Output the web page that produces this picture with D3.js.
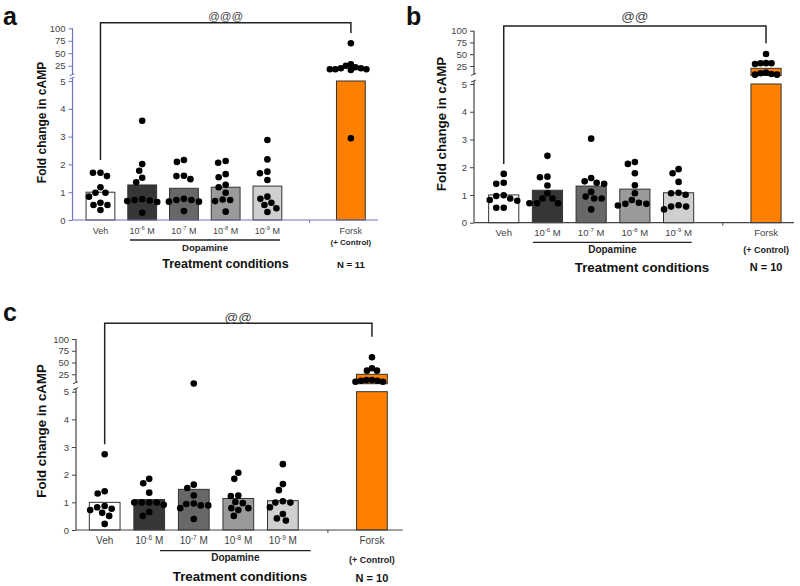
<!DOCTYPE html>
<html><head><meta charset="utf-8">
<script src="https://cdn.jsdelivr.net/npm/d3@7"></script>
<style>body{margin:0;background:#fff}svg{display:block}text{font-family:"Liberation Sans",Arial,sans-serif}</style>
</head><body><svg id="c" width="800" height="586"></svg>
<script>
// ---- data ----
const categories = ["Veh", "10-6 M", "10-7 M", "10-8 M", "10-9 M", "Forsk"];
const doseExponents = ["", "-6", "-7", "-8", "-9", ""];
const barFills = ["#ffffff", "#363636", "#686868", "#9a9a9a", "#cfcfcf", "#ff8000"];
const lowerTicks = [0, 1, 2, 3, 4, 5];
const upperTicks = [25, 50, 75, 100];

const meansA = [1.0, 1.26, 1.14, 1.18, 1.22, 5];
const meansB = [1.0, 1.17, 1.32, 1.21, 1.08, 20];
const meansC = [1.0, 1.10, 1.47, 1.14, 1.06, 25];

const dotsA = [
  [1.58, 1.70, 1.70, 1.18, 0.84, 0.98, 0.98, 0.62, 0.54, 0.54, 0.36],
  [3.57, 2.01, 1.77, 1.52, 1.36, 0.75, 0.70, 0.68, 0.72, 0.65, 0.26],
  [2.09, 2.16, 1.47, 1.59, 1.58, 0.66, 0.76, 0.72, 0.72, 0.66, 0.32],
  [2.06, 2.12, 1.54, 1.65, 1.18, 1.27, 0.98, 0.68, 0.74, 0.72, 0.30],
  [2.88, 2.18, 1.68, 1.74, 1.44, 0.84, 0.62, 0.29, 0.54, 0.76, 0.42],
  [70, 17.8, 19.8, 21.8, 17.8, 25, 27.9, 17.8, 16.4, 19.8, 2.94]
];
const dotsB = [
  [1.76, 1.40, 1.44, 0.82, 0.96, 0.87, 0.99, 0.79, 0.54, 0.54],
  [2.41, 1.64, 1.66, 1.34, 1.06, 0.87, 0.87, 0.70, 0.70, 0.70],
  [3.03, 1.61, 1.40, 1.44, 1.49, 1.11, 0.87, 0.94, 0.87, 0.48],
  [2.12, 2.19, 1.78, 1.35, 1.06, 0.82, 0.72, 0.68, 0.68, 0.62],
  [1.78, 1.93, 1.47, 1.01, 1.08, 1.06, 0.48, 0.63, 0.58, 0.58],
  [50.4, 29.2, 30.7, 30.7, 31, 6.6, 10.8, 9.5, 8, 6.6]
];
const dotsC = [
  [2.74, 1.32, 1.40, 0.72, 0.82, 0.87, 0.77, 0.51, 0.62, 0.22],
  [1.69, 1.85, 1.35, 0.99, 0.99, 0.99, 0.99, 0.91, 0.51, 0.65],
  [5.5, 1.52, 1.64, 1.25, 0.89, 0.96, 0.89, 0.94, 0.79, 0.40],
  [2.07, 1.85, 1.25, 1.23, 1.01, 0.97, 0.79, 0.79, 0.72, 0.51],
  [2.38, 1.66, 1.44, 1.04, 0.99, 0.99, 0.82, 0.58, 0.34, 0.42],
  [61.2, 32.7, 32.7, 37.8, 9.3, 12.9, 11.4, 12.9, 11.4, 9.3]
];
const sigLabels = ["@@@", "@@", "@@"];
const nLabels = ["N = 11", "N = 10", "N = 10"];

// ---- layout ----
const panels = [
  {letter:"a", lx:3, ly:25, L:72.5, R:378, padL:0.67, padR:0.65, y0:220, y5:81, y5u:75.7, y100:28.3, ax:"#7272c4",
   brY:22.7, gapL:12.7, gapR:10.3, sigSize:11.5, sigY:19.5, tickFont:9, tickY:233.5, dopY:240, dopX:[130,280], dopTY:251, dopFont:9.5,
   tcX:225.5, tcY:268, tcFont:12.5, forskY:234, ctrlY:244.5, ctrlFont:8, nY:267.5, nFont:9.5, ylX:46, ylY:122.5, ylFont:12, means:meansA, dots:dotsA},
  {letter:"b", lx:406, ly:25, L:474, R:794, padL:0.68, padR:0.64, y0:222.7, y5:84, y5u:75.4, y100:30.7, ax:"#444",
   brY:26, gapL:10, gapR:10.7, sigSize:13.5, sigY:20.5, tickFont:9.5, tickY:235.5, dopY:242.3, dopX:[533,691.7], dopTY:253, dopFont:10,
   tcX:642, tcY:272, tcFont:13.3, forskY:235.5, ctrlY:252.5, ctrlFont:9, nY:271, nFont:11, ylX:446.3, ylY:124, ylFont:13.3, means:meansB, dots:dotsB},
  {letter:"c", lx:3, ly:321, L:76, R:402.7, padL:0.644, padR:0.69, y0:530, y5:391.7, y5u:383.7, y100:339, ax:"#444",
   brY:323.3, gapL:10, gapR:20.6, sigSize:13.5, sigY:321.5, tickFont:10, tickY:543.5, dopY:550.7, dopX:[160,310.7], dopTY:561, dopFont:10,
   tcX:240, tcY:581, tcFont:13.3, forskY:544, ctrlY:562.5, ctrlFont:9, nY:581.5, nFont:11, ylX:46.3, ylY:431, ylFont:13.2, means:meansC, dots:dotsC}
];

const svg = d3.select("#c");
const R = 3.3;

function swarm(vals, yFn, dist) {
  const pts = vals.map(v => ({v, y: yFn(v)})).sort((a, b) => a.y - b.y);
  const placed = [];
  for (const p of pts) {
    let off = 0;
    for (let k = 0; k < 400; k++) {
      const o = (k % 2 === 0 ? 1 : -1) * Math.ceil(k / 2) * 0.5;
      if (placed.every(q => (q.x - o) ** 2 + (q.y - p.y) ** 2 >= dist * dist)) { off = o; break; }
    }
    p.x = off; placed.push(p);
  }
  return pts;
}

panels.forEach((P, pi) => {
  const g = svg.append("g");
  const x = d3.scaleLinear().domain([-P.padL, 6 + P.padR]).range([P.L, P.R]);
  const step = x(1) - x(0);
  const bw = step * 0.69;
  const yLo = d3.scaleLinear().domain([0, 5]).range([P.y0, P.y5]);
  const yUp = d3.scaleLinear().domain([5, 100]).range([P.y5u, P.y100]);
  const yv = v => v <= 5 ? yLo(v) : yUp(v);
  const pos = i => i < 5 ? i : 6;

  g.append("text").attr("x", P.lx).attr("y", P.ly).attr("font-size", 25).attr("font-weight", "bold").attr("fill", "#111").text(P.letter);

  P.means.forEach((m, i) => {
    const cx = x(pos(i));
    g.append("rect").attr("x", cx - bw / 2).attr("width", bw)
      .attr("y", yLo(Math.min(m, 5))).attr("height", P.y0 - yLo(Math.min(m, 5)))
      .attr("fill", barFills[i]).attr("stroke", "#333").attr("stroke-width", 1);
    if (m > 5) {
      g.append("rect").attr("x", cx - bw / 2).attr("width", bw)
        .attr("y", yUp(m)).attr("height", yUp(5) - yUp(m))
        .attr("fill", barFills[i]).attr("stroke", "#333").attr("stroke-width", 1);
    }
  });

  P.dots.forEach((vals, i) => {
    const cx = x(pos(i));
    swarm(vals, yv, i === 5 ? 5.2 : 7.2).forEach(p => {
      g.append("circle").attr("cx", cx + p.x).attr("cy", p.y).attr("r", R).attr("fill", "#000");
    });
  });

  const axL = g.append("g").attr("transform", `translate(${P.L},0)`)
    .call(d3.axisLeft(yLo).tickValues(lowerTicks).tickFormat(d3.format("d")).tickSize(4).tickSizeOuter(0).tickPadding(3));
  const axU = g.append("g").attr("transform", `translate(${P.L},0)`)
    .call(d3.axisLeft(yUp).tickValues(upperTicks).tickFormat(d3.format("d")).tickSize(4).tickSizeOuter(0).tickPadding(3));
  [axL, axU].forEach(a => {
    a.select(".domain").remove();
    a.selectAll("line").attr("stroke", P.ax);
    a.selectAll("text").attr("font-size", 9.5).attr("fill", "#444").attr("font-family", "Liberation Sans, Arial, sans-serif");
  });
  g.append("line").attr("x1", P.L).attr("x2", P.L).attr("y1", P.y0).attr("y2", P.y5 - 3).attr("stroke", P.ax).attr("stroke-width", 1.2);
  g.append("line").attr("x1", P.L).attr("x2", P.L).attr("y1", P.y5u - 1).attr("y2", P.y100).attr("stroke", P.ax).attr("stroke-width", 1.2);
  [P.y5 - 3, P.y5u - 1].forEach(yy => {
    g.append("line").attr("x1", P.L - 3).attr("x2", P.L + 2).attr("y1", yy + 1).attr("y2", yy - 1).attr("stroke", P.ax).attr("stroke-width", 1);
  });

  g.append("line").attr("x1", P.L).attr("x2", P.R).attr("y1", P.y0).attr("y2", P.y0).attr("stroke", P.ax).attr("stroke-width", 1.2);
  const xa = g.append("g").attr("transform", `translate(0,${P.y0})`)
    .call(d3.axisBottom(x).tickValues([5]).tickFormat("").tickSize(3).tickSizeOuter(0));
  xa.select(".domain").remove();
  xa.selectAll("line").attr("stroke", P.ax);

  categories.forEach((c, i) => {
    const cx = x(pos(i));
    if (i === 5) {
      g.append("text").attr("x", cx).attr("y", P.forskY).attr("text-anchor", "middle").attr("font-size", P.tickFont).attr("fill", "#444").text(c);
      return;
    }
    const t = g.append("text").attr("x", cx).attr("y", P.tickY).attr("text-anchor", "middle").attr("font-size", P.tickFont).attr("fill", "#444");
    if (doseExponents[i]) {
      t.append("tspan").text("10");
      t.append("tspan").attr("dy", -3.5).attr("font-size", P.tickFont * 0.65).text(doseExponents[i]);
      t.append("tspan").attr("dy", 3.5).text(" M");
    } else t.text(c);
  });

  g.append("line").attr("x1", P.dopX[0]).attr("x2", P.dopX[1]).attr("y1", P.dopY).attr("y2", P.dopY).attr("stroke", "#222").attr("stroke-width", 1.3);
  g.append("text").attr("x", (P.dopX[0] + P.dopX[1]) / 2).attr("y", P.dopTY).attr("text-anchor", "middle")
    .attr("font-size", P.dopFont).attr("font-weight", "bold").attr("fill", "#222").text("Dopamine");
  g.append("text").attr("x", P.tcX).attr("y", P.tcY).attr("text-anchor", "middle")
    .attr("font-size", P.tcFont).attr("font-weight", "bold").attr("fill", "#111").text("Treatment conditions");
  g.append("text").attr("x", x(6)).attr("y", P.ctrlY).attr("text-anchor", "middle")
    .attr("font-size", P.ctrlFont).attr("font-weight", "bold").attr("fill", "#222").text("(+ Control)");
  g.append("text").attr("x", x(6)).attr("y", P.nY).attr("text-anchor", "middle")
    .attr("font-size", P.nFont).attr("font-weight", "bold").attr("fill", "#111").text(nLabels[pi]);

  g.append("text").attr("transform", `translate(${P.ylX},${P.ylY}) rotate(-90)`).attr("text-anchor", "middle")
    .attr("font-size", P.ylFont).attr("font-weight", "bold").attr("fill", "#111").text("Fold change in cAMP");

  const xl = x(0), xr = x(6);
  const yl = yv(d3.max(P.dots[0])) - P.gapL;
  const yr = yv(d3.max(P.dots[5])) - P.gapR;
  g.append("path").attr("d", `M${xl},${yl}V${P.brY}H${xr}V${yr}`).attr("fill", "none").attr("stroke", "#222").attr("stroke-width", 1.5);
  g.append("text").attr("x", (xl + xr) / 2).attr("y", P.sigY).attr("text-anchor", "middle")
    .attr("font-size", P.sigSize).attr("fill", "#444").text(sigLabels[pi]);
});
</script></body></html>
